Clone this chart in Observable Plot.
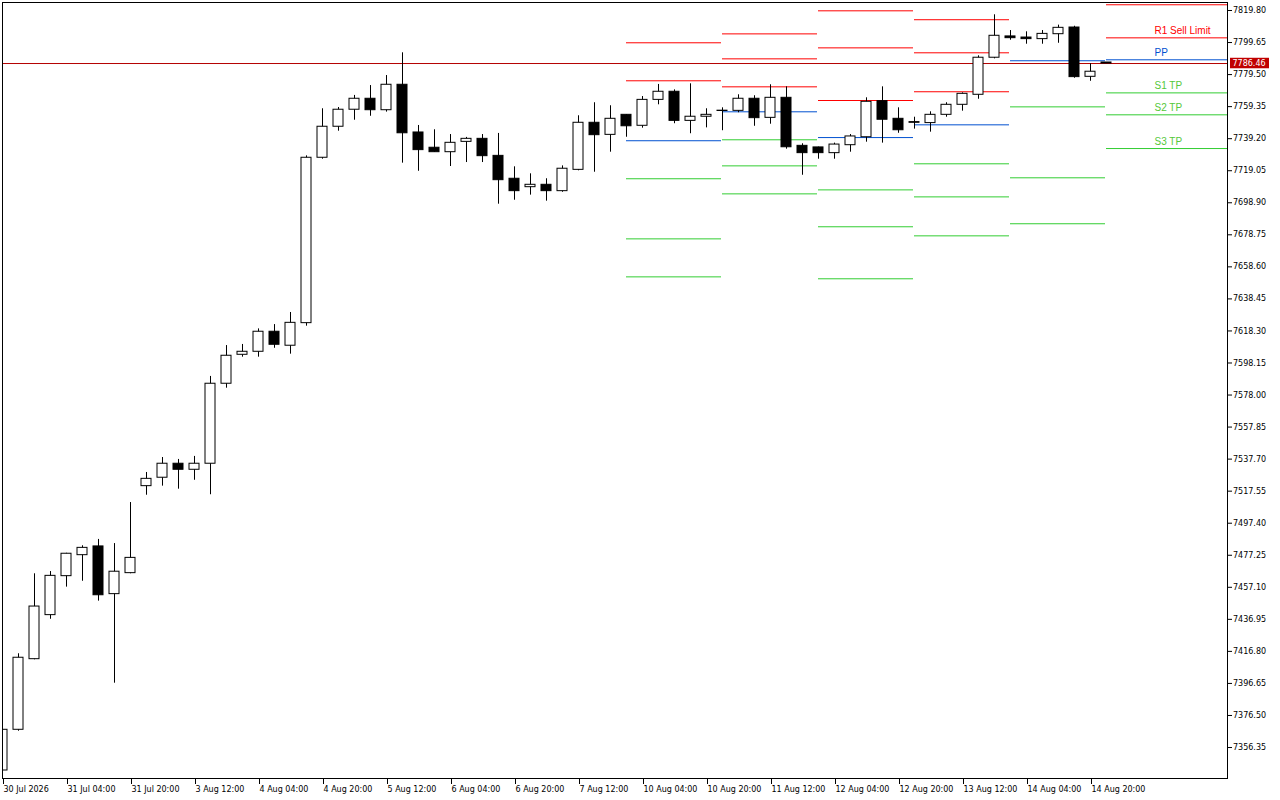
<!DOCTYPE html>
<html><head><meta charset="utf-8">
<script src="https://cdn.jsdelivr.net/npm/d3@7"></script>
<script src="https://cdn.jsdelivr.net/npm/@observablehq/plot@0.6"></script>
<style>html,body{margin:0;padding:0;background:#fff;overflow:hidden}</style>
</head><body><div id="chart"></div>
<script>
// ---- data (H4 bars) ----
const xTickIdx = [0,4,8,12,16,20,24,28,32,36,40,44,48,52,56,60,64,68];
const xLabels = ["30 Jul 2026","31 Jul 04:00","31 Jul 20:00","3 Aug 12:00","4 Aug 04:00","4 Aug 20:00","5 Aug 12:00","6 Aug 04:00","6 Aug 20:00","7 Aug 12:00","10 Aug 04:00","10 Aug 20:00","11 Aug 12:00","12 Aug 04:00","12 Aug 20:00","13 Aug 12:00","14 Aug 04:00","14 Aug 20:00"];

const opens  = [7341.9,7367.5,7411.9,7439.6,7464.1,7477.3,7482.8,7452.8,7466.0,7520.7,7526.0,7534.8,7531.0,7534.8,7585.1,7603.3,7605.2,7617.8,7609.0,7623.2,7727.2,7746.7,7757.4,7764.3,7757.1,7773.1,7743.1,7733.5,7730.7,7737.2,7739.1,7728.4,7714.0,7708.7,7710.2,7706.2,7719.6,7749.2,7741.6,7754.2,7747.3,7763.6,7768.7,7750.4,7753.0,7756.6,7756.7,7764.3,7752.3,7764.9,7734.7,7733.7,7730.1,7735.1,7740.1,7762.8,7751.7,7749.6,7749.0,7754.2,7760.5,7766.8,7790.1,7803.5,7802.8,7801.8,7804.9,7809.1,7778.1,7787.1];
const highs  = [7367.9,7415.3,7465.6,7467.0,7478.5,7483.2,7487.2,7484.6,7510.4,7529.3,7538.7,7537.5,7539.4,7589.7,7609.1,7609.8,7619.6,7622.3,7629.9,7728.4,7758.0,7758.8,7766.4,7772.6,7778.9,7793.2,7747.5,7744.8,7741.8,7740.0,7741.8,7742.5,7721.5,7717.1,7714.0,7722.1,7753.6,7761.8,7759.9,7754.4,7765.7,7773.3,7769.9,7773.7,7758.0,7758.6,7766.8,7766.2,7773.1,7771.8,7736.0,7733.9,7736.4,7741.8,7764.9,7771.8,7758.6,7752.7,7756.1,7761.8,7768.0,7791.3,7817.1,7807.2,7806.4,7807.2,7810.6,7809.9,7786.3,7787.1];
const lows   = [7341.5,7366.6,7411.5,7437.0,7457.2,7460.9,7448.4,7396.8,7465.6,7515.0,7520.7,7518.8,7524.4,7515.3,7582.3,7601.8,7601.8,7607.4,7603.7,7621.3,7726.3,7743.9,7750.8,7753.3,7755.9,7723.8,7718.7,7730.5,7721.7,7724.2,7724.2,7698.0,7700.5,7703.7,7699.9,7705.5,7719.0,7718.1,7730.7,7740.1,7745.8,7760.5,7748.6,7742.3,7746.0,7744.2,7755.5,7747.0,7748.3,7732.6,7716.2,7726.3,7726.3,7730.7,7737.0,7736.4,7742.6,7745.2,7743.3,7752.7,7756.5,7764.0,7789.4,7801.1,7798.6,7798.6,7799.2,7777.2,7775.3,7786.46];
const closes = [7367.5,7412.8,7445.0,7464.3,7478.2,7481.9,7452.1,7466.9,7475.6,7525.3,7534.8,7531.0,7534.8,7585.1,7602.7,7605.2,7617.8,7609.6,7623.4,7727.2,7746.7,7757.4,7764.3,7757.1,7773.1,7742.6,7732.0,7730.7,7736.6,7739.1,7728.2,7713.1,7706.2,7710.2,7706.2,7720.3,7749.2,7741.4,7751.7,7747.0,7763.6,7768.7,7750.4,7753.0,7754.2,7756.8,7764.3,7752.1,7764.9,7733.8,7730.1,7730.1,7735.5,7740.6,7762.4,7751.1,7744.5,7749.2,7754.2,7760.5,7767.4,7790.1,7803.9,7802.4,7801.8,7805.1,7808.9,7777.9,7781.3,7786.46];

const yTickLabels = ["7819.80","7799.65","7779.50","7759.35","7739.20","7719.05","7698.90","7678.75","7658.60","7638.45","7618.30","7598.15","7578.00","7557.85","7537.70","7517.55","7497.40","7477.25","7457.10","7436.95","7416.80","7396.65","7376.50","7356.35"];

// daily pivot levels, one value per day segment (segment starts at the bar index below)
const pivotStart = [39, 45, 51, 57, 63, 69];
const R3 = [null,   7805.1, 7819.6, 7814.0, null,   null];
const R2 = [7799.5, 7789.4, 7796.3, 7793.2, null,   7823.4];
const R1 = [7775.6, 7771.8, 7763.2, 7768.7, null,   7802.6];
const PP = [7737.9, 7756.1, 7739.9, 7747.9, 7788.2, 7788.8];
const S1 = [7714.0, 7738.5, 7707.0, 7723.4, 7759.2, 7768.0];
const S2 = [7676.2, 7722.1, 7683.8, 7702.6, 7714.6, 7754.2];
const S3 = [7652.3, 7704.5, 7651.1, 7678.1, 7685.7, 7733.0];
const levelNames = ["R3","R2","R1","PP","S1","S2","S3"];
const levelLabels = {R1: "R1 Sell Limit", PP: "PP", S1: "S1 TP", S2: "S2 TP", S3: "S3 TP"};
const bidPrice = 7786.46;

// ---- build tables ----
const RED = "#ff0000", BLUE = "#0050d0", GREEN = "#32cd32";
const colorOf = n => n[0] === "R" ? RED : n === "PP" ? BLUE : GREEN;
const labelColorOf = n => n[0] === "R" ? RED : n === "PP" ? BLUE : "#55c83a";
const W = 1280, H = 800, mL = 2, mR = 53, mT = 2, mB = 22;
const barPx = 16;
const xMax = (W - mL - mR) / barPx;          // right edge of the plot in bar units
const candles = opens.map((o, i) => ({i, o, h: highs[i], l: lows[i], c: closes[i]}));
const levels = {R3, R2, R1, PP, S1, S2, S3};
const segs = [];
levelNames.forEach(n => levels[n].forEach((v, k) => {
  if (v == null) return;
  const last = k === pivotStart.length - 1;
  segs.push({name: n, y: v, x1: pivotStart[k], x2: last ? xMax : pivotStart[k + 1] - 1 / barPx, color: colorOf(n)});
}));
const lastK = pivotStart.length - 1;
const labels = Object.keys(levelLabels).filter(n => levels[n][lastK] != null)
  .map(n => ({text: levelLabels[n], y: levels[n][lastK], color: labelColorOf(n)}));
const yTicks = yTickLabels.map(Number);

const chart = Plot.plot({
  width: W, height: H,
  marginLeft: mL, marginRight: mR, marginTop: mT, marginBottom: mB,
  style: {fontFamily: "DejaVu Sans", fontSize: "8px", color: "black", background: "white", overflow: "visible"},
  x: {type: "linear", domain: [0, xMax]},
  y: {type: "linear", domain: [7336.87, 7824.83]},
  color: {type: "identity"},
  marks: [
    Plot.ruleY(segs, {x1: "x1", x2: "x2", y: "y", stroke: "color", strokeWidth: 1, clip: true}),
    Plot.ruleY([bidPrice], {stroke: "#b40000", strokeWidth: 1}),
    Plot.ruleX(candles, {x: "i", y1: "l", y2: "h", stroke: "black", strokeWidth: 1, clip: true}),
    Plot.rect(candles, {x1: d => d.i - 5 / barPx, x2: d => d.i + 5 / barPx, y1: "o", y2: "c",
      fill: d => d.c >= d.o ? "white" : "black", stroke: "black", strokeWidth: 1, clip: true}),
    Plot.text(labels, {x: () => pivotStart[lastK] + 3, y: "y", text: "text", fill: "color", dy: -7,
      textAnchor: "start", fontFamily: "Liberation Sans", fontSize: 10}),
    Plot.frame({stroke: "black"}),
    Plot.axisY({anchor: "right", ticks: yTicks, tickFormat: d => d.toFixed(2), tickSize: 4, tickPadding: 1.5, label: null}),
    Plot.axisX({anchor: "bottom", ticks: xTickIdx, tickFormat: i => xLabels[xTickIdx.indexOf(i)], tickSize: 6, tickPadding: 2,
      textAnchor: "start", dx: 1, label: null}),
    Plot.rect([bidPrice], {x1: () => xMax + 3 / barPx, x2: () => xMax + 42 / barPx, y1: d => d - 3.3, y2: d => d + 3.3, fill: "#c00000"}),
    Plot.text([bidPrice], {x: () => xMax, y: d => d, text: d => d.toFixed(2), dx: 5, textAnchor: "start", fill: "white"})
  ]
});
document.getElementById("chart").appendChild(chart);
</script>
</body></html>
